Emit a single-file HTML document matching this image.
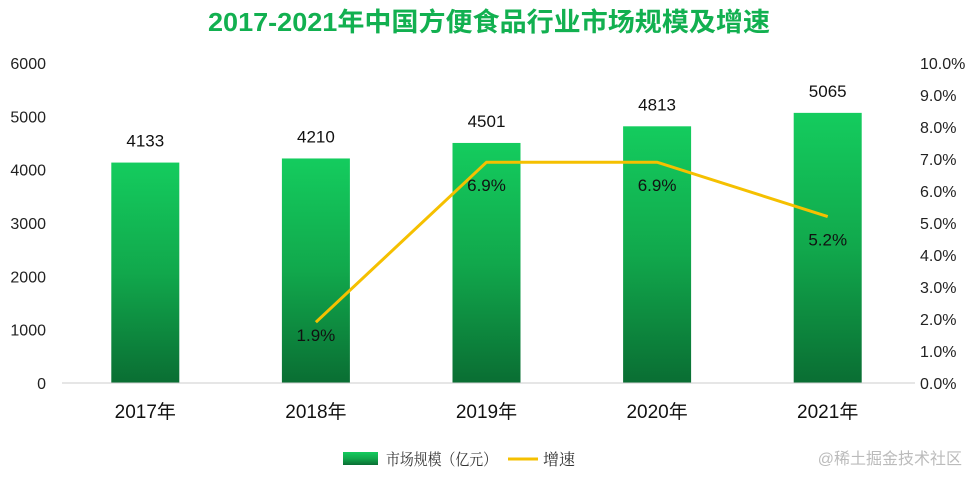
<!DOCTYPE html>
<html><head><meta charset="utf-8"><style>
body{margin:0;background:#fff;width:979px;height:481px;overflow:hidden;font-family:"Liberation Sans","Noto Sans CJK SC",sans-serif}
</style></head><body>
<svg id="c" width="979" height="481" xmlns="http://www.w3.org/2000/svg">
<defs><linearGradient id="g" x1="0" y1="0" x2="0" y2="1"><stop offset="0" stop-color="#14cc5e"/><stop offset="0.5" stop-color="#11a84c"/><stop offset="1" stop-color="#0a6e33"/></linearGradient></defs>
<text x="208" y="31" textLength="562" lengthAdjust="spacingAndGlyphs" font-size="26" font-weight="bold" fill="#12b050" font-family="Liberation Sans,Noto Sans CJK SC,sans-serif">2017-2021年中国方便食品行业市场规模及增速</text>
<g id="bars"></g>
<g id="axes"></g>
<g>
<rect x="343" y="452" width="35" height="13" fill="url(#g)"/>
<text x="386" y="465" textLength="111" lengthAdjust="spacingAndGlyphs" font-size="16" fill="#333" font-family="Noto Serif CJK SC,serif">市场规模（亿元）</text>
<line x1="508" y1="459" x2="538" y2="459" stroke="#f5c000" stroke-width="3"/>
<text x="543" y="465" font-size="16" fill="#333" font-family="Noto Serif CJK SC,serif">增速</text>
</g>
<text x="962" y="464" text-anchor="end" font-size="16" fill="#bbb">@稀土掘金技术社区</text>
</svg>
<script>
const categories=["2017年","2018年","2019年","2020年","2021年"];
const marketSize=[4133,4210,4501,4813,5065];
const growth=[null,1.9,6.9,6.9,5.2];
const leftTicks=[0,1000,2000,3000,4000,5000,6000];
const rightTicks=[0,1,2,3,4,5,6,7,8,9,10];
const NS="http://www.w3.org/2000/svg";
const y0=383,y1=63,x0=62,x1=915;
const yL=v=>y0-(v/6000)*(y0-y1);
const yR=v=>y0-(v/10)*(y0-y1);
const xC=i=>x0+(x1-x0)/categories.length*(i+0.5)-2;
function mk(t,a,p,txt){const e=document.createElementNS(NS,t);for(const k in a)e.setAttribute(k,a[k]);if(txt!=null)e.textContent=txt;p.appendChild(e);return e;}
const bars=document.getElementById('bars'),axes=document.getElementById('axes'),svg=document.getElementById('c');
leftTicks.forEach(v=>{const t=mk('text',{x:46,y:yL(v)+6,'text-anchor':'end','font-size':16,fill:'#222'},axes,v);

});
rightTicks.forEach(v=>{const t=mk('text',{x:920,y:yR(v)+6,'font-size':16,fill:'#222'},axes,v.toFixed(1)+'%');

});
const ax=mk('line',{x1:x0,y1:y0,x2:x1,y2:y0,stroke:'#ccc','stroke-width':1},axes);


categories.forEach((c,i)=>{const cx=xC(i);
const r=mk('rect',{x:cx-34,y:yL(marketSize[i]),width:68,height:y0-yL(marketSize[i]),fill:'url(#g)'},bars);


const l=mk('text',{x:cx,y:yL(marketSize[i])-16,'text-anchor':'middle','font-size':17,fill:'#111'},bars,marketSize[i]);


const t=mk('text',{x:cx,y:418,'text-anchor':'middle','font-size':19,fill:'#111'},axes,c);

});
const pts=[];growth.forEach((g,i)=>{if(g!=null)pts.push([xC(i),yR(g),g]);});
const pl=mk('polyline',{points:pts.map(p=>p[0]+','+p[1]).join(' '),fill:'none',stroke:'#f5c000','stroke-width':3},svg);


pts.forEach((p,k)=>{const t=mk('text',{x:p[0],y:p[1]+(k==0?19:29),'text-anchor':'middle','font-size':17,fill:'#111'},svg,p[2].toFixed(1)+'%');

});
</script>
</body></html>
